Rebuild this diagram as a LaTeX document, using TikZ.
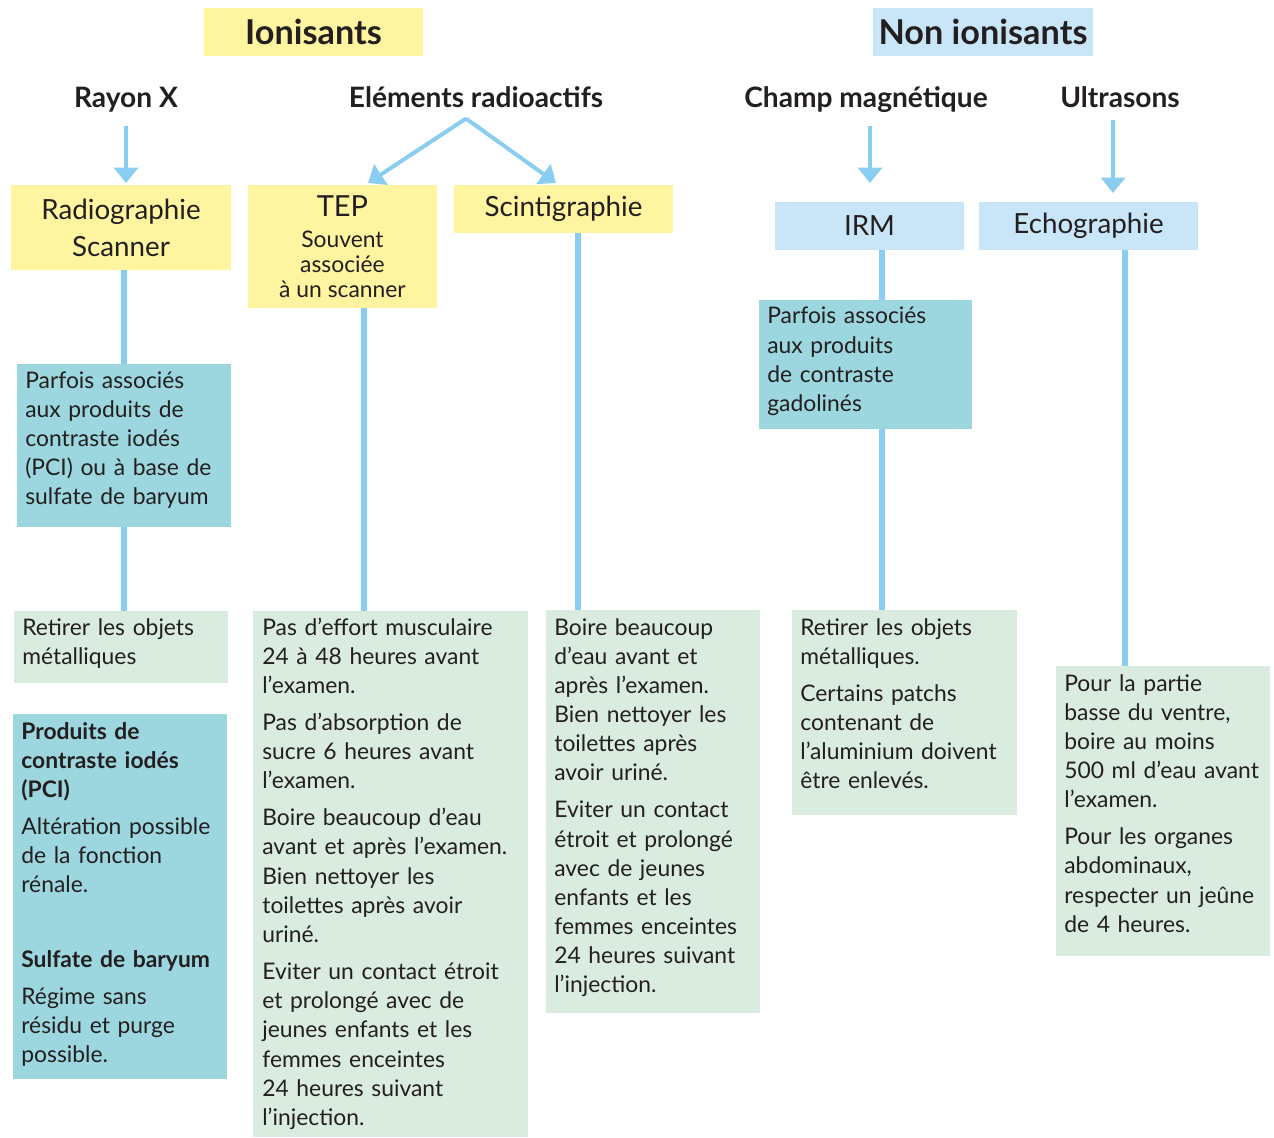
\documentclass[tikz,border=0pt]{standalone}
\usepackage{fontspec}
\setmainfont{Lato}
\usetikzlibrary{arrows.meta,calc}
\definecolor{paleyellow}{RGB}{255,245,160}
\definecolor{paleblue}{RGB}{201,230,248}
\definecolor{tealnote}{RGB}{156,214,222}
\definecolor{mintnote}{RGB}{217,236,223}
\definecolor{linkblue}{RGB}{137,206,240}
\definecolor{inktext}{RGB}{35,31,32}

\begin{document}
\begin{tikzpicture}[x=0.02cm,y=-0.02cm,font=\fontsize{13}{16.6}\selectfont,text=inktext,
 panel/.style={anchor=north west,inner sep=0pt,outer sep=0pt},
 ybox/.style={panel,fill=paleyellow},
 bbox/.style={panel,fill=paleblue},
 tbox/.style={panel,fill=tealnote},
 gbox/.style={panel,fill=mintnote},
 title/.style={font=\fontsize{19.5}{22}\selectfont\bfseries},
 head/.style={anchor=base,inner sep=0pt,font=\fontsize{16}{19}\selectfont\bfseries},
 method/.style={align=center,font=\fontsize{15.8}{21}\selectfont},
 note/.style={anchor=base west,align=left,inner sep=0pt,text width=6cm},
 link/.style={draw=linkblue,line width=0.12cm},
 arr/.style={draw=linkblue,line width=0.08cm,-{Triangle[length=0.31cm,width=0.48cm]}}]
\useasboundingbox (0,0) rectangle (1274,1138);

% titres
\node[ybox,title,minimum width=4.38cm,minimum height=0.96cm] (ion) at (204,8) {Ionisants};
\node[bbox,title,minimum width=4.40cm,minimum height=0.96cm] (nonion) at (873,8) {Non ionisants};

\node[head] (rayonx) at (126,108) {Rayon X};
\node[head] (elements) at (476,108) {Eléments radioactifs};
\node[head] (champ) at (866,108) {Champ magnétique};
\node[head] (ultra) at (1120,108) {Ultrasons};

% examens
\node[ybox,method,minimum width=4.40cm,minimum height=1.70cm] (radio) at (11,185) {Radiographie\\Scanner};
\node[ybox,align=center,minimum width=3.78cm,minimum height=2.46cm] (tep) at (248,185)
 {{\fontsize{16.5}{18}\selectfont TEP}\\[1pt]Souvent\\[-2.5pt]associée\\[-2.5pt]à un scanner};
\node[ybox,method,minimum width=4.38cm,minimum height=0.96cm] (scinti) at (454,185) {Scintigraphie};
\node[bbox,method,minimum width=3.78cm,minimum height=0.96cm] (irm) at (775,202) {IRM};
\node[bbox,method,minimum width=4.38cm,minimum height=0.96cm] (echo) at (979,202) {Echographie};

% produits de contraste
\node[tbox,minimum width=4.28cm,minimum height=3.26cm] (pci) at (17,364) {};
\node[note] (pci-t) at ($(pci.north west)+(8,24)$)
 {Parfois associés\\aux produits de\\contraste iodés\\(PCI) ou à base de\\sulfate de baryum};
\node[tbox,minimum width=4.26cm,minimum height=2.58cm] (gado) at (759,300) {};
\node[note] (gado-t) at ($(gado.north west)+(8,24)$)
 {Parfois associés\\aux produits\\de contraste\\gadolinés};
\node[tbox,minimum width=4.28cm,minimum height=7.30cm] (contraste) at (13,714) {};
\node[note] (contraste-t) at ($(contraste.north west)+(8,25)$)
 {\textbf{Produits de}\\\textbf{contraste iodés}\\\textbf{(PCI)}\\[4.5pt]
 Altération possible\\de la fonction\\rénale.\\[26pt]
 \textbf{Sulfate de baryum}\\[4.5pt]
 Régime sans\\résidu et purge\\possible.};

% consignes
\node[gbox,minimum width=4.28cm,minimum height=1.44cm] (retirer) at (14,611) {};
\node[note] (retirer-t) at ($(retirer.north west)+(8,24)$)
 {Retirer les objets\\métalliques};
\node[gbox,minimum width=5.50cm,minimum height=10.52cm] (tepnote) at (253,611) {};
\node[note] (tepnote-t) at ($(tepnote.north west)+(9,24)$)
 {Pas d’effort musculaire\\24 à 48 heures avant\\l’examen.\\[4.5pt]
 Pas d’absorption de\\sucre 6 heures avant\\l’examen.\\[4.5pt]
 Boire beaucoup d’eau\\avant et après l’examen.\\Bien nettoyer les\\toilettes après avoir\\uriné.\\[4.5pt]
 Eviter un contact étroit\\et prolongé avec de\\jeunes enfants et les\\femmes enceintes\\24 heures suivant\\l’injection.};
\node[gbox,minimum width=4.28cm,minimum height=8.06cm] (scintinote) at (546,610) {};
\node[note] (scintinote-t) at ($(scintinote.north west)+(8,25)$)
 {Boire beaucoup\\d’eau avant et\\après l’examen.\\Bien nettoyer les\\toilettes après\\avoir uriné.\\[4.5pt]
 Eviter un contact\\étroit et prolongé\\avec de jeunes\\enfants et les\\femmes enceintes\\24 heures suivant\\l’injection.};
\node[gbox,minimum width=4.50cm,minimum height=4.10cm] (irmnote) at (792,610) {};
\node[note] (irmnote-t) at ($(irmnote.north west)+(8,25)$)
 {Retirer les objets\\métalliques.\\[4.5pt]
 Certains patchs\\contenant de\\l’aluminium doivent\\être enlevés.};
\node[gbox,minimum width=4.28cm,minimum height=5.80cm] (echonote) at (1056,666) {};
\node[note] (echonote-t) at ($(echonote.north west)+(8,25)$)
 {Pour la partie\\basse du ventre,\\boire au moins\\500 ml d’eau avant\\l’examen.\\[4.5pt]
 Pour les organes\\abdominaux,\\respecter un jeûne\\de 4 heures.};

% fleches
\coordinate (fork) at ($(elements.south)+(-10,10)$);
\draw[arr,shorten <=0.26cm,shorten >=0.04cm] (rayonx.south) -- (rayonx.south |- radio.north);
\draw[arr] (fork) -- ($(tep.north)+(25.5,-2)$);
\draw[arr] (fork) -- ($(scinti.north)+(-7.5,-2)$);
\draw[arr,shorten <=0.26cm,shorten >=0.38cm] ([xshift=0.08cm]champ.south) -- ([xshift=0.08cm]champ.south |- irm.north);
\draw[arr,shorten <=0.22cm,shorten >=0.18cm] ([xshift=-0.14cm]ultra.south) -- ([xshift=-0.14cm]ultra.south |- echo.north);

% liaisons
\draw[link] (pci.north |- radio.south) -- (pci.north);
\draw[link] (pci.south) -- (pci.south |- retirer.north);
\draw[link] ([xshift=0.43cm]tep.south) -- ([xshift=0.43cm]tep.south |- tepnote.north);
\draw[link] ([xshift=0.29cm]scinti.south) -- ([xshift=0.29cm]scinti.south |- scintinote.north);
\draw[link] ([xshift=0.25cm]irm.south) -- ([xshift=0.25cm]irm.south |- gado.north);
\draw[link] ([xshift=0.25cm]irm.south |- gado.south) -- ([xshift=0.25cm]irm.south |- irmnote.north);
\draw[link] ([xshift=0.73cm]echo.south) -- ([xshift=0.73cm]echo.south |- echonote.north);
\end{tikzpicture}
\end{document}
